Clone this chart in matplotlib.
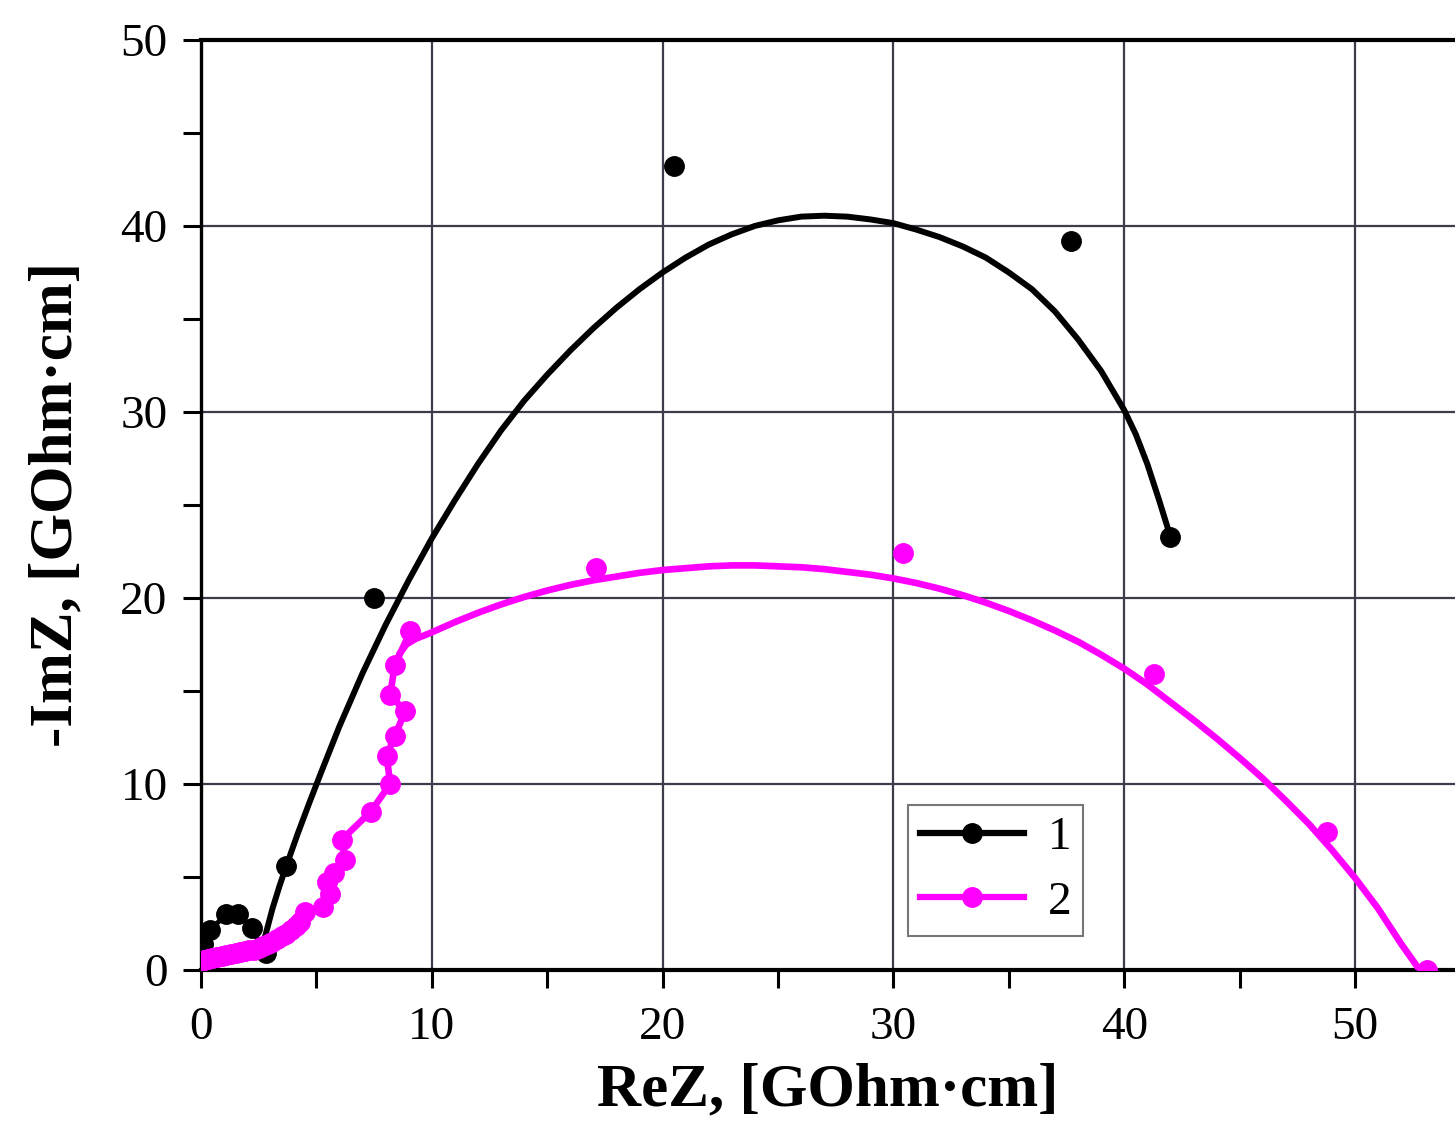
import matplotlib
matplotlib.use('Agg')
import matplotlib.pyplot as plt
from matplotlib.lines import Line2D
from matplotlib.ticker import MultipleLocator

plt.rcParams['font.family'] = ['Liberation Serif', 'DejaVu Serif']

# ── Data ──────────────────────────────────────────────────────────
# sample 1: measured points
re1 = [0.1, 0.4, 1.1, 1.6, 2.2, 2.8, 3.7, 7.5, 20.5, 37.7, 42.0]
im1 = [1.4, 2.15, 3.0, 3.0, 2.25, 0.9, 5.6, 20.0, 43.2, 39.2, 23.3]
# sample 1: fitted curve
fit1_re = [2.6, 2.8, 3.1, 3.4, 3.7, 4.2, 4.7, 5.2, 6.0, 7.0, 8.0, 9.0, 10.0,
           11.0, 12.0, 13.0, 14.0, 15.0, 16.0, 17.0, 18.0, 19.0, 20.0, 21.0,
           22.0, 23.0, 24.0, 25.0, 26.0, 27.0, 28.0, 29.0, 30.0, 31.0, 32.0,
           33.0, 34.0, 35.0, 36.0, 37.0, 38.0, 39.0, 40.0, 40.5, 41.0, 41.5,
           42.0]
fit1_im = [1.1, 1.9, 3.3, 4.5, 5.6, 7.35, 9.0, 10.6, 13.1, 15.95, 18.55, 20.95,
           23.2, 25.25, 27.2, 29.0, 30.6, 32.0, 33.3, 34.5, 35.6, 36.6, 37.5,
           38.3, 39.0, 39.55, 40.0, 40.3, 40.5, 40.55, 40.5, 40.35, 40.15,
           39.8, 39.4, 38.9, 38.3, 37.5, 36.6, 35.4, 33.9, 32.2, 30.1, 28.8,
           27.2, 25.3, 23.3]

# sample 2: measured points
re2 = [0.0, 0.15, 0.3, 0.5, 0.7, 0.9, 1.1, 1.3, 1.5, 1.7, 1.9, 2.1, 2.3, 2.5,
       2.7, 2.9, 3.1, 3.3, 3.5, 3.7, 3.9, 4.1, 4.3, 4.5, 5.3, 5.6, 5.45, 5.75,
       6.25, 6.1, 7.35, 8.2, 8.05, 8.4, 8.85, 8.2, 8.4, 9.07,
       17.1, 30.4, 41.3, 48.8, 53.1]
im2 = [0.5, 0.55, 0.6, 0.65, 0.7, 0.75, 0.8, 0.85, 0.9, 0.95, 1.0, 1.05, 1.1,
       1.2, 1.3, 1.4, 1.5, 1.65, 1.8, 1.95, 2.15, 2.35, 2.6, 3.1, 3.4, 4.1,
       4.75, 5.2, 5.9, 7.0, 8.5, 10.0, 11.5, 12.6, 13.9, 14.8, 16.4, 18.2,
       21.6, 22.4, 15.9, 7.4, 0.0]
n_chain2 = 38  # first points joined by a line
# sample 2: fitted curve
fit2_re = [8.45, 8.6, 8.9, 9.3, 10.0, 11.0, 12.0, 13.0, 14.0, 15.0, 16.0, 17.0,
           18.0, 19.0, 20.0, 21.0, 22.0, 23.0, 24.0, 25.0, 26.0, 27.0, 28.0,
           29.0, 30.0, 31.0, 32.0, 33.0, 34.0, 35.0, 36.0, 37.0, 38.0, 39.0,
           40.0, 41.0, 42.0, 43.0, 44.0, 45.0, 46.0, 47.0, 48.0, 49.0, 50.0,
           51.0, 52.0, 52.8]
fit2_im = [16.2, 17.0, 17.5, 17.8, 18.15, 18.7, 19.2, 19.65, 20.05, 20.4, 20.7,
           20.95, 21.15, 21.35, 21.5, 21.6, 21.7, 21.75, 21.75, 21.7, 21.65,
           21.55, 21.4, 21.25, 21.05, 20.8, 20.5, 20.15, 19.75, 19.3, 18.8,
           18.25, 17.65, 16.95, 16.2, 15.35, 14.4, 13.45, 12.45, 11.4, 10.3,
           9.1, 7.85, 6.45, 4.95, 3.3, 1.4, 0.0]

labels = ['1', '2']
colors = ['black', '#ff00ff']

# ── Figure ────────────────────────────────────────────────────────
fig = plt.figure(figsize=(14.55, 11.28), dpi=100)
ax = fig.add_axes([0.1381, 0.1401, 0.8619, 0.8245])

ax.plot(fit1_re, fit1_im, color=colors[0], lw=4.3, zorder=3,
        solid_joinstyle='round')
ax.plot(re1[:6], im1[:6], color=colors[0], lw=3.5, zorder=3)
ax.plot(re1, im1, 'o', color=colors[0], ms=14, zorder=4)

ax.plot(fit2_re, fit2_im, color=colors[1], lw=4.8, zorder=3,
        solid_joinstyle='round')
ax.plot(re2[:n_chain2], im2[:n_chain2], color=colors[1], lw=4.8, zorder=3)
ax.plot(re2, im2, 'o', color=colors[1], ms=14, zorder=4)

ax.set_xlim(0, 54.33)
ax.set_ylim(0, 50)
ax.xaxis.set_major_locator(MultipleLocator(10))
ax.xaxis.set_minor_locator(MultipleLocator(5))
ax.yaxis.set_major_locator(MultipleLocator(10))
ax.yaxis.set_minor_locator(MultipleLocator(5))
ax.grid(True, which='major', color='#3c3c4a', lw=1.6)
ax.set_axisbelow(True)

ax.spines['right'].set_visible(False)
for side in ['top', 'bottom']:
    ax.spines[side].set_linewidth(3.0)
ax.spines['left'].set_linewidth(2.4)
ax.tick_params(which='both', direction='out', length=13, width=2.2,
               labelsize=34, top=False, right=False)
ax.tick_params(axis='x', pad=13)
ax.tick_params(axis='y', pad=11)

ax.set_xlabel('ReZ, [GOhm·cm]', fontsize=44, fontweight='bold', labelpad=10)
ax.set_ylabel('-ImZ, [GOhm·cm]', fontsize=44, fontweight='bold', labelpad=26)

handles = [Line2D([], [], color=c, lw=4.5, marker='o', ms=14) for c in colors]
leg = ax.legend(handles, labels, loc='lower left', bbox_to_anchor=(0.564, 0.037),
                borderaxespad=0, fontsize=34, frameon=True, fancybox=False,
                handlelength=2.2, borderpad=0.25, labelspacing=0.45,
                handletextpad=0.5)
leg.get_frame().set_edgecolor('#555555')
leg.get_frame().set_linewidth(1.5)

fig.savefig('out.png', dpi=100)
